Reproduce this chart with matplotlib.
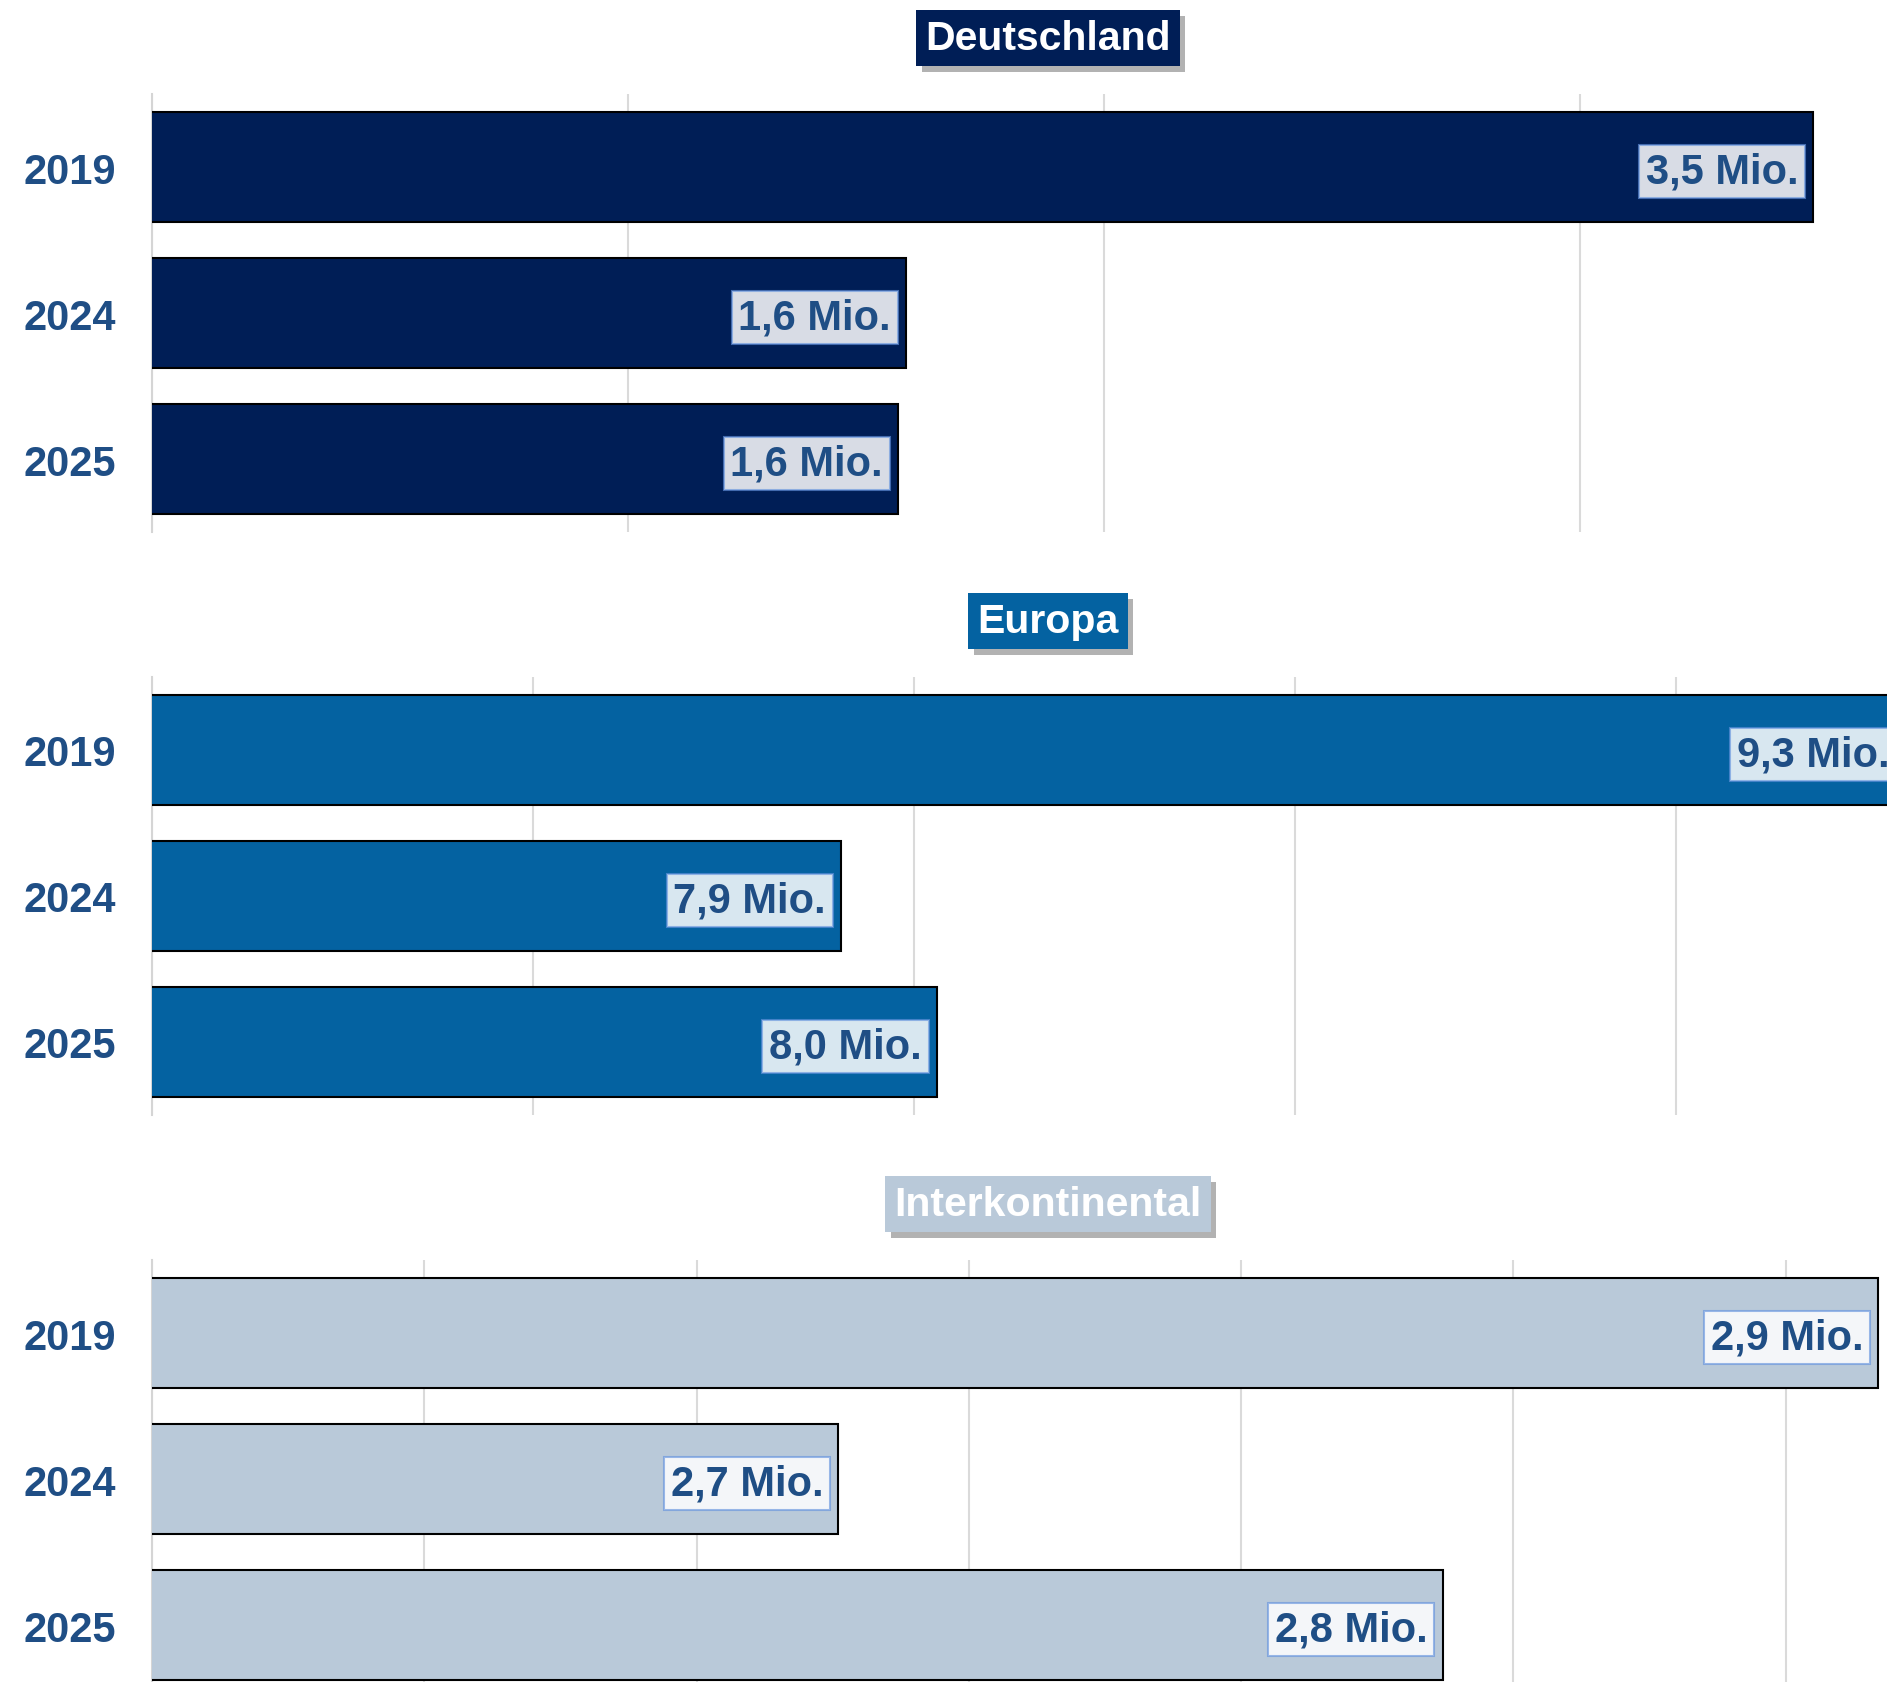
import matplotlib
matplotlib.use("Agg")
import matplotlib.pyplot as plt
import matplotlib.patheffects as pe

plt.rcParams['font.family'] = ['Liberation Sans', 'DejaVu Sans']

years = ["2019", "2024", "2025"]
panels = ["Deutschland", "Europa", "Interkontinental"]
values_de = [3.49, 1.584, 1.567]
values_eu = [9.30, 7.904, 8.03]
values_ic = [2.917, 2.726, 2.837]
labels_de = ["3,5 Mio.", "1,6 Mio.", "1,6 Mio."]
labels_eu = ["9,3 Mio.", "7,9 Mio.", "8,0 Mio."]
labels_ic = ["2,9 Mio.", "2,7 Mio.", "2,8 Mio."]

colors = ["#001E56", "#0462A1", "#B9C9D9"]
text_blue = "#1F4E85"

W, H = 1887, 1683
fig = plt.figure(figsize=(W / 100, H / 100), dpi=100)

panel_cfg = [
    (values_de, labels_de, 0.0, 476.0, [0, 1, 2, 3]),
    (values_eu, labels_eu, 7.0, 762.0, [7.0, 7.5, 8.0, 8.5, 9.0]),
    (values_ic, labels_ic, 2.6, 5446.0, [2.60, 2.65, 2.70, 2.75, 2.80, 2.85, 2.90]),
]

ax_left_px = 152
ax_width_px = 1792
ax_height_px = 438
panel_pitch = 583

for i, (vals, labs, xmin, pxper, ticks) in enumerate(panel_cfg):
    top_px = 95 + panel_pitch * i
    ax = fig.add_axes([ax_left_px / W, 1 - (top_px + ax_height_px) / H,
                       ax_width_px / W, ax_height_px / H])
    xmax = xmin + ax_width_px / pxper
    left = xmin - 0.01 * (xmax - xmin)
    ypos = list(range(len(years)))
    ax.barh(ypos, [v - left for v in vals], left=left, height=0.755,
            color=colors[i], edgecolor="black", linewidth=1.5, zorder=3)
    ax.set_xlim(xmin, xmax)
    ax.set_ylim(2.5, -0.5)
    ax.set_xticks(ticks)
    ax.xaxis.grid(True, color="#DADADA", linewidth=1.5, zorder=0)
    ax.set_axisbelow(True)
    ax.tick_params(axis="x", length=0, labelbottom=False)
    ax.set_yticks(ypos)
    ax.set_yticklabels(years, fontsize=30, fontweight="bold", color=text_blue)
    ax.tick_params(axis="y", length=0, pad=26)
    for s in ["top", "right", "bottom"]:
        ax.spines[s].set_visible(False)
    ax.spines["left"].set_color("#D5D5D5")
    ax.spines["left"].set_linewidth(1.5)
    ax.set_facecolor("none")

    for y, v, lab in zip(ypos, vals, labs):
        ax.annotate(lab, xy=(v, y), xytext=(-15, 0), textcoords="offset pixels",
                    ha="right", va="center_baseline", fontsize=30, fontweight="bold",
                    color=text_blue, zorder=5,
                    bbox=dict(boxstyle="square,pad=0.16",
                              facecolor=(1, 1, 1, 0.85),
                              edgecolor=(0.40, 0.58, 0.87, 0.65),
                              linewidth=1.5))

    # panel title with shadow
    tx = 1048 / W
    ty = 1 - (39 + panel_pitch * i) / H
    t = fig.text(tx, ty, panels[i], ha="center", va="center",
                 fontsize=29.5, fontweight="bold", color="white",
                 bbox=dict(boxstyle="square,pad=0.22", facecolor=colors[i],
                           edgecolor="none"))
    t.get_bbox_patch().set_path_effects([
        pe.SimplePatchShadow(offset=(4, -4), shadow_rgbFace=(0.45, 0.45, 0.45), alpha=0.55),
        pe.Normal(),
    ])

fig.savefig("out.png", dpi=100)
